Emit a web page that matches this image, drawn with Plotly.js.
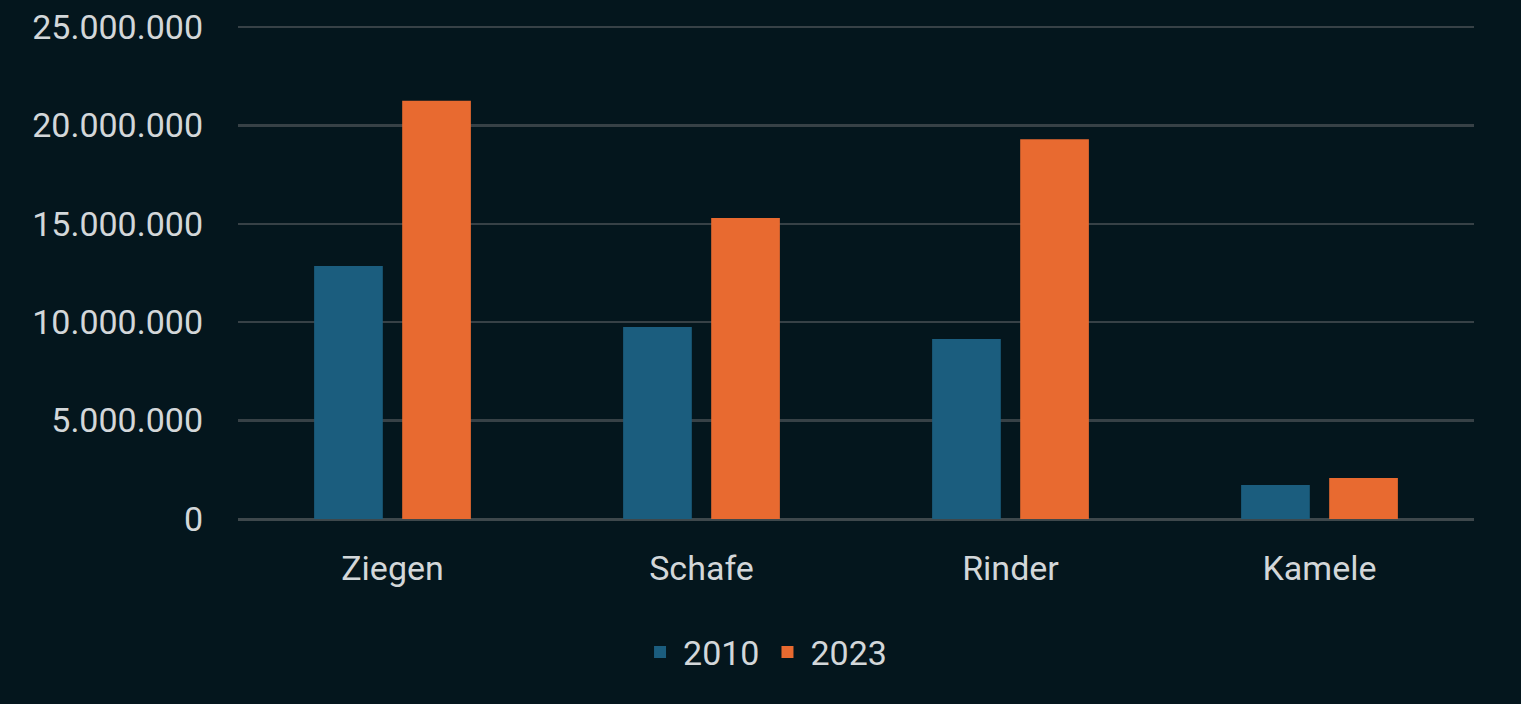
<!DOCTYPE html>
<html>
<head>
<meta charset="utf-8">
<script src="https://cdn.plot.ly/plotly-3.0.1.min.js"></script>
<style>
  html, body { margin: 0; padding: 0; background: #04161d; }
  #chart { width: 1521px; height: 704px; }
</style>
</head>
<body>
<div id="chart"></div>
<script>
// Tierbestand nach Art
const kategorien = ['Ziegen', 'Schafe', 'Rinder', 'Kamele'];
const werte2010 = [12850000, 9750000, 9150000, 1730000];
const werte2023 = [21250000, 15300000, 19300000, 2080000];
const yTicks = [0, 5000000, 10000000, 15000000, 20000000, 25000000];

const schrift = { family: 'Roboto, sans-serif', size: 34, color: '#d3d7d9' };

const spuren = [
  {
    x: kategorien,
    y: werte2010,
    name: '2010',
    type: 'bar',
    marker: { color: '#1b5d7e' }
  },
  {
    x: kategorien,
    y: werte2023,
    name: '2023',
    type: 'bar',
    marker: { color: '#e86a30' }
  }
];

const layout = {
  width: 1521,
  height: 704,
  paper_bgcolor: '#04161d',
  plot_bgcolor: '#04161d',
  font: schrift,
  separators: ',.',
  margin: { l: 238, r: 47, t: 25, b: 185 },
  barmode: 'group',
  bargap: 0.43,
  bargroupgap: 0.22,
  showlegend: true,
  legend: {
    orientation: 'h',
    x: 0.426,
    xanchor: 'center',
    y: -0.27,
    yanchor: 'middle',
    font: schrift,
    itemwidth: 36,
    bgcolor: 'rgba(0,0,0,0)'
  },
  xaxis: {
    showgrid: false,
    showline: false,
    zeroline: false,
    ticks: '',
    ticklabelstandoff: 26,
    tickfont: schrift
  },
  yaxis: {
    // leicht erweitert, damit die 25-Mio-Linie sichtbar bleibt
    range: [0, 25100000],
    tickvals: yTicks,
    tickformat: ',d',
    showgrid: true,
    gridcolor: '#374146',
    gridwidth: 2.5,
    zeroline: true,
    zerolinecolor: '#3e484c',
    zerolinewidth: 3,
    showline: false,
    ticks: '',
    ticklabelstandoff: 34,
    tickfont: schrift
  }
};

Plotly.newPlot('chart', spuren, layout, { displayModeBar: false, staticPlot: true });
</script>
</body>
</html>
